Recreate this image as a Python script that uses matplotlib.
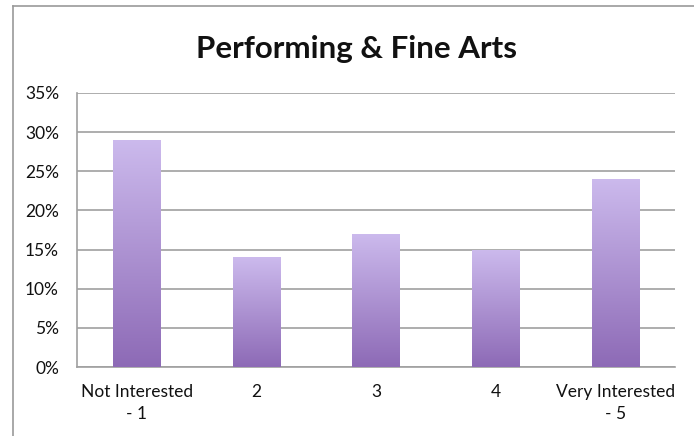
import matplotlib.pyplot as plt
import numpy as np
from matplotlib.colors import LinearSegmentedColormap
from matplotlib.lines import Line2D
from matplotlib.ticker import PercentFormatter

# Survey responses (share of respondents)
categories = ["Not Interested\n- 1", "2", "3", "4", "Very Interested\n- 5"]
shares = [0.29, 0.14, 0.17, 0.15, 0.24]
y_ticks = [0, 0.05, 0.10, 0.15, 0.20, 0.25, 0.30, 0.35]

plt.rcParams["font.family"] = ["Lato", "DejaVu Sans"]

fig = plt.figure(figsize=(6.94, 4.36), dpi=100)
ax = fig.add_axes([0.111, 0.158, 0.862, 0.629])

x = np.arange(len(categories))
bars = ax.bar(x, shares, width=0.4, color="none", zorder=3)

# vertical gradient inside each bar: light lavender on top, deeper purple at the base
cmap = LinearSegmentedColormap.from_list("purp", ["#8d6ab6", "#ccbaed"])
grad = np.linspace(0, 1, 256).reshape(-1, 1)
for b in bars:
    x0, w, h = b.get_x(), b.get_width(), b.get_height()
    im = ax.imshow(grad, cmap=cmap, origin="lower", aspect="auto",
                   extent=(x0, x0 + w, 0, h), zorder=3)
    im.set_clip_path(b)

ax.set_xlim(-0.5, len(categories) - 0.5)
ax.set_ylim(0, 0.35)
ax.set_yticks(y_ticks)
ax.yaxis.set_major_formatter(PercentFormatter(1.0, decimals=0))
ax.set_xticks(x)
ax.set_xticklabels(categories, linespacing=1.45)
ax.tick_params(length=0, labelsize=12.5, colors="#111111")
ax.tick_params(axis="x", pad=12)
ax.tick_params(axis="y", pad=13)

ax.grid(axis="y", color="#a0a0a0", linewidth=1.2, zorder=0)
for side in ["top", "right"]:
    ax.spines[side].set_visible(False)
for side in ["left", "bottom"]:
    ax.spines[side].set_color("#a0a0a0")
    ax.spines[side].set_linewidth(1.2)

fig.text(0.514, 0.888, "Performing & Fine Arts", ha="center", va="center",
         fontsize=22.5, fontweight="bold", color="#111111")

# outer chart frame (left and top edges visible in the source)
fig.add_artist(Line2D([13 / 694, 13 / 694], [0, 1 - 6 / 436],
                      transform=fig.transFigure, color="#9a9a9a", linewidth=1.2))
fig.add_artist(Line2D([13 / 694, 1], [1 - 6 / 436, 1 - 6 / 436],
                      transform=fig.transFigure, color="#9a9a9a", linewidth=1.2))

fig.savefig("out.png", dpi=100, facecolor="white")
